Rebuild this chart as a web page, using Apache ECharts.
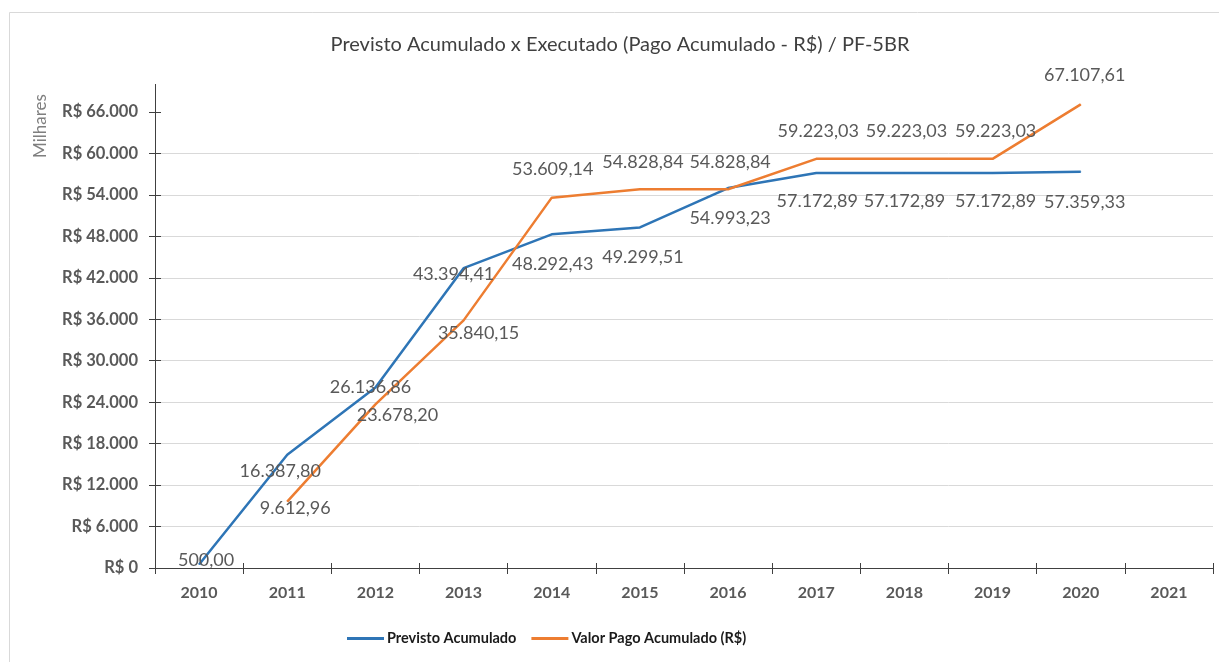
<!DOCTYPE html>
<html>
<head>
<meta charset="utf-8">
<script src="https://cdn.jsdelivr.net/npm/echarts@6/dist/echarts.min.js"></script>
<style>
html,body{margin:0;padding:0;background:#fff;}
#chart{width:1219px;height:662px;}
</style>
</head>
<body>
<div id="chart"></div>
<script>
// ---- data ----
const years = ['2010','2011','2012','2013','2014','2015','2016','2017','2018','2019','2020','2021'];
const previsto = [500.00, 16387.80, 26136.86, 43394.41, 48292.43, 49299.51, 54993.23, 57172.89, 57172.89, 57172.89, 57359.33, null];
const pago = [null, 9612.96, 23678.20, 35840.15, 53609.14, 54828.84, 54828.84, 59223.03, 59223.03, 59223.03, 67107.61, null];
const yTicks = [0, 6000, 12000, 18000, 24000, 30000, 36000, 42000, 48000, 54000, 60000, 66000];
const seriesNames = ['Previsto Acumulado', 'Valor Pago Acumulado (R$)'];
const titleText = 'Previsto Acumulado x Executado (Pago Acumulado - R$) / PF-5BR';
const unitText = 'Milhares';

// ---- layout (label placement relative to each point) ----
const prevOffsets = [[7,-4],[-7,16],[-5,0],[-10,6],[1,30],[3,30],[2,30],[1,28],[0,28],[3,28],[4,30],[0,0]];
const pagoOffsets = [[0,0],[8,7],[22,11],[15,13],[1,-28],[3,-27],[2,-27],[2,-28],[2,-28],[3,-28],[4,-29],[0,0]];

function fmtBR(v, dec) {
  const s = Number(v).toFixed(dec);
  const parts = s.split('.');
  const i = parts[0].replace(/\B(?=(\d{3})+(?!\d))/g, '.');
  return dec > 0 ? i + ',' + parts[1] : i;
}

const FONT = 'Lato, "Open Sans", "Liberation Sans", sans-serif';
const labelStyle = {
  show: true, position: 'inside', color: '#595959', fontFamily: FONT, fontSize: 18,
  formatter: p => fmtBR(p.value, 2)
};

function buildData(vals, offs) {
  return vals.map((v, i) => v == null ? null : { value: v, label: Object.assign({}, labelStyle, { offset: offs[i] }) });
}

const chart = echarts.init(document.getElementById('chart'), null, { renderer: 'canvas' });
const axisColor = '#404040';
const yMax = 70000;

chart.setOption({
  animation: false,
  backgroundColor: '#ffffff',
  title: {
    text: titleText, left: 615, top: 30, textAlign: 'center',
    textStyle: { fontFamily: FONT, fontSize: 20, fontWeight: 'normal', color: '#404040' }
  },
  graphic: [
    { type: 'rect', z: -10, silent: true, shape: { x: 9.5, y: 12.5, width: 1250, height: 700 },
      style: { fill: 'none', stroke: '#d9d9d9', lineWidth: 1 } },
    { type: 'text', silent: true, x: 41, y: 126, rotation: Math.PI / 2,
      style: { text: unitText, fill: '#7f7f7f', font: '17px ' + FONT, align: 'center', verticalAlign: 'middle' } }
  ],
  legend: {
    left: 342, top: 626, itemWidth: 37, itemHeight: 3, itemGap: 15, icon: 'rect',
    data: seriesNames,
    textStyle: { fontFamily: FONT, fontSize: 14.5, fontWeight: 'bold', color: '#1a1a1a', padding: [0,0,0,-2] }
  },
  grid: { left: 155, right: 6, top: 84.4, bottom: 94, containLabel: false },
  xAxis: [
    {
      type: 'category', data: years, boundaryGap: true, position: 'bottom',
      axisLine: { lineStyle: { color: axisColor, width: 1 } },
      axisTick: { show: true, length: 6, alignWithLabel: false, lineStyle: { color: axisColor } },
      axisLabel: { margin: 17, fontFamily: FONT, fontSize: 16, fontWeight: 'bold', color: '#595959' },
      splitLine: { show: false }
    },
    {
      type: 'category', data: years, boundaryGap: true, position: 'bottom',
      axisLine: { show: false },
      axisTick: { show: true, inside: true, length: 5, lineStyle: { color: axisColor } },
      axisLabel: { show: false }, splitLine: { show: false }
    }
  ],
  yAxis: [
    {
      type: 'value', min: 0, max: yMax, interval: 6000, position: 'left',
      axisLine: { show: true, lineStyle: { color: axisColor, width: 1 } },
      axisTick: { show: true, length: 6, customValues: yTicks, lineStyle: { color: axisColor } },
      axisLabel: {
        margin: 17, customValues: yTicks, fontFamily: FONT, fontSize: 16.5, fontWeight: 'bold', color: '#595959',
        formatter: v => v > yTicks[yTicks.length - 1] ? '' : 'R$ ' + fmtBR(v, 0)
      },
      splitLine: { show: true, showMaxLine: false, lineStyle: { color: '#d9d9d9', width: 1 } }
    },
    {
      type: 'value', min: 0, max: yMax, interval: 6000, position: 'left',
      axisLine: { show: false },
      axisTick: { show: true, inside: true, length: 6, customValues: yTicks, lineStyle: { color: axisColor } },
      axisLabel: { show: false }, splitLine: { show: false }
    }
  ],
  series: [
    {
      name: seriesNames[0], type: 'line', xAxisIndex: 0, yAxisIndex: 0,
      data: buildData(previsto, prevOffsets),
      symbol: 'circle', symbolSize: 1, showSymbol: true,
      itemStyle: { color: '#2E75B6' },
      lineStyle: { color: '#2E75B6', width: 2.5 },
      connectNulls: false, z: 3
    },
    {
      name: seriesNames[1], type: 'line', xAxisIndex: 0, yAxisIndex: 0,
      data: buildData(pago, pagoOffsets),
      symbol: 'circle', symbolSize: 1, showSymbol: true,
      itemStyle: { color: '#ED7D31' },
      lineStyle: { color: '#ED7D31', width: 2.5 },
      connectNulls: false, z: 3
    }
  ]
});
</script>
</body>
</html>
